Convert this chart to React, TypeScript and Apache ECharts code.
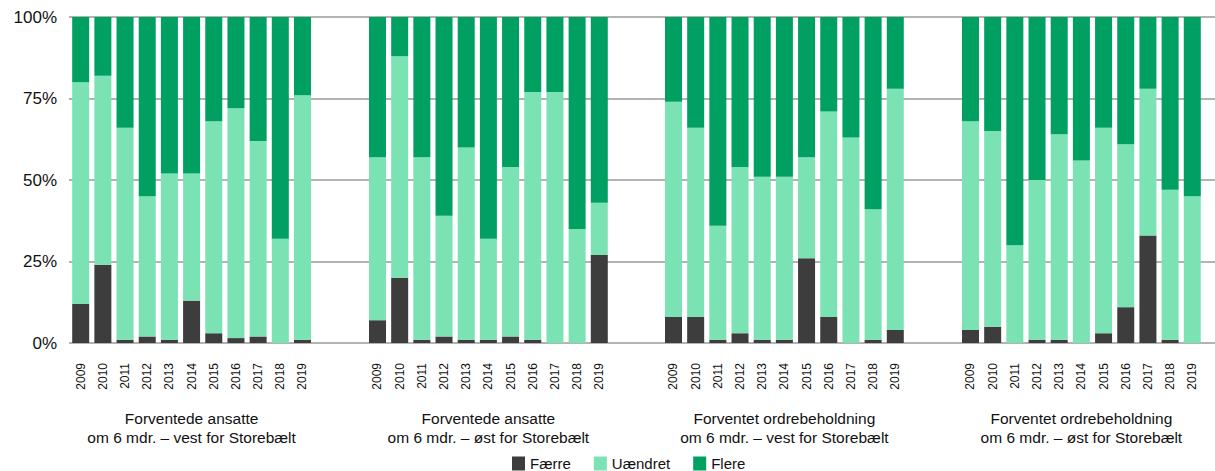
import React, { useEffect, useRef } from "react";
import * as echarts from "echarts";

const years = ["2009", "2010", "2011", "2012", "2013", "2014", "2015", "2016", "2017", "2018", "2019"];
const yTicks = [0, 25, 50, 75, 100];
const seriesNames = ["Færre", "Uændret", "Flere"];
const seriesColors = ["#3d3d3d", "#7be2b3", "#009f62"];

const groupTitles = [
  "Forventede ansatte\nom 6 mdr. – vest for Storebælt",
  "Forventede ansatte\nom 6 mdr. – øst for Storebælt",
  "Forventet ordrebeholdning\nom 6 mdr. – vest for Storebælt",
  "Forventet ordrebeholdning\nom 6 mdr. – øst for Storebælt",
];

// Forventede ansatte – vest
const ansatteVestFaerre = [12, 24, 1, 2, 1, 13, 3, 1.5, 2, 0, 1];
const ansatteVestUaendret = [68, 58, 65, 43, 51, 39, 65, 70.5, 60, 32, 75];
const ansatteVestFlere = [20, 18, 34, 55, 48, 48, 32, 28, 38, 68, 24];

// Forventede ansatte – øst
const ansatteOestFaerre = [7, 20, 1, 2, 1, 1, 2, 1, 0, 0, 27];
const ansatteOestUaendret = [50, 68, 56, 37, 59, 31, 52, 76, 77, 35, 16];
const ansatteOestFlere = [43, 12, 43, 61, 40, 68, 46, 23, 23, 65, 57];

// Forventet ordrebeholdning – vest
const ordreVestFaerre = [8, 8, 1, 3, 1, 1, 26, 8, 0, 1, 4];
const ordreVestUaendret = [66, 58, 35, 51, 50, 50, 31, 63, 63, 40, 74];
const ordreVestFlere = [26, 34, 64, 46, 49, 49, 43, 29, 37, 59, 22];

// Forventet ordrebeholdning – øst
const ordreOestFaerre = [4, 5, 0, 1, 1, 0, 3, 11, 33, 1, 0];
const ordreOestUaendret = [64, 60, 30, 49, 63, 56, 63, 50, 45, 46, 45];
const ordreOestFlere = [32, 35, 70, 50, 36, 44, 34, 39, 22, 53, 55];

const groups = [
  [ansatteVestFaerre, ansatteVestUaendret, ansatteVestFlere],
  [ansatteOestFaerre, ansatteOestUaendret, ansatteOestFlere],
  [ordreVestFaerre, ordreVestUaendret, ordreVestFlere],
  [ordreOestFaerre, ordreOestUaendret, ordreOestFlere],
];

const FONT = "Liberation Sans, Arial, sans-serif";
const gridLefts = [69.6, 366.4, 662.4, 959.4];
const slotWidth = 22.18;

export default function App() {
  const ref = useRef<HTMLDivElement>(null);

  useEffect(() => {
    if (!ref.current) return;
    const chart = echarts.init(ref.current, undefined, { renderer: "svg" });

    const grids: any[] = [{ left: 69, right: 0, top: 17, height: 326 }];
    const xAxes: any[] = [{ type: "value", gridIndex: 0, show: false, min: 0, max: 1 }];
    const yAxes: any[] = [
      {
        type: "value",
        gridIndex: 0,
        min: yTicks[0],
        max: yTicks[yTicks.length - 1],
        interval: 25,
        axisLine: { show: false },
        axisTick: { show: false },
        axisLabel: {
          formatter: "{value}%",
          fontFamily: FONT,
          fontSize: 17,
          color: "#111",
          margin: 12,
        },
        splitLine: { lineStyle: { color: "#b3b3b3", width: 2 } },
      },
    ];
    const series: any[] = [];

    groups.forEach((g, gi) => {
      grids.push({ left: gridLefts[gi], width: slotWidth * years.length, top: 17, height: 326 });
      xAxes.push({
        type: "category",
        gridIndex: gi + 1,
        data: years,
        axisLine: { show: false },
        axisTick: { show: false },
        axisLabel: {
          rotate: 90,
          fontFamily: FONT,
          fontSize: 12,
          color: "#111",
          margin: 20,
        },
        name: groupTitles[gi],
        nameLocation: "middle",
        nameGap: 66,
        nameTextStyle: {
          fontFamily: FONT,
          fontSize: 15.5,
          color: "#111",
          lineHeight: 19,
        },
      });
      yAxes.push({ type: "value", gridIndex: gi + 1, min: 0, max: 100, show: false, splitLine: { show: false } });
      g.forEach((arr, si) => {
        series.push({
          type: "bar",
          name: seriesNames[si],
          xAxisIndex: gi + 1,
          yAxisIndex: gi + 1,
          stack: "g" + gi,
          barWidth: 17,
          data: arr,
          itemStyle: { color: seriesColors[si] },
        });
      });
    });

    chart.setOption({
      animation: false,
      color: seriesColors,
      grid: grids,
      xAxis: xAxes,
      yAxis: yAxes,
      legend: {
        data: seriesNames,
        left: 512,
        top: 456,
        padding: 0,
        itemWidth: 13,
        itemHeight: 14,
        itemGap: 23,
        icon: "rect",
        textStyle: { fontFamily: FONT, fontSize: 15, color: "#111" },
      },
      series,
    });

    return () => chart.dispose();
  }, []);

  return (
    <div
      ref={ref}
      style={{ position: "absolute", left: 0, top: 0, width: 1215, height: 471 }}
    />
  );
}
